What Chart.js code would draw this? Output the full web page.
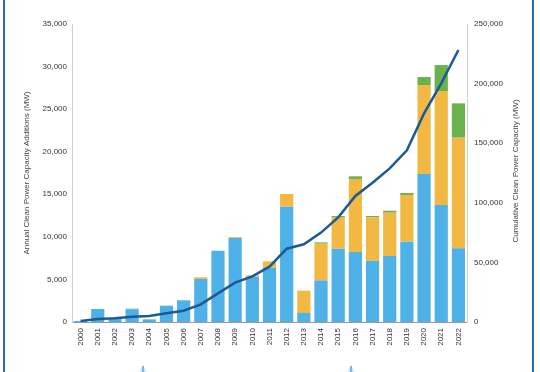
<!DOCTYPE html>
<html>
<head>
<meta charset="utf-8">
<script src="https://cdn.jsdelivr.net/npm/chart.js@4/dist/chart.umd.min.js"></script>
<style>
  body { margin: 0; background: #fff; }
  #wrap { position: relative; width: 540px; height: 372px; }
  .edge { position: absolute; top: 0; width: 2px; height: 372px; background: #2a6db0; }
  .tip { position: absolute; top: 366px; width: 0; height: 0;
         border-left: 4px solid transparent; border-right: 4px solid transparent;
         border-bottom: 6px solid #cfe6f5; }
  .tip::after { content: ''; position: absolute; left: -1px; top: 0; width: 2px; height: 6px; background: #7fb7de; }
</style>
</head>
<body>
<div id="wrap">
  <canvas id="chart" width="540" height="372"></canvas>
  <div class="edge" style="left:3px"></div>
  <div class="edge" style="left:532px"></div>
  <div class="tip" style="left:139px"></div>
  <div class="tip" style="left:347px"></div>
</div>
<script>
// Data
var years = ['2000', '2001', '2002', '2003', '2004', '2005', '2006', '2007', '2008', '2009', '2010', '2011',
             '2012', '2013', '2014', '2015', '2016', '2017', '2018', '2019', '2020', '2021', '2022'];

var blueAdds = [120, 1530, 430, 1500, 310, 1920, 2550, 5050, 8380, 9870, 5290, 6380,
                13550, 1060, 4890, 8610, 8220, 7170, 7750, 9440, 17380, 13740, 8650];
var yellowAdds = [0, 0, 0, 0, 0, 0, 0, 200, 0, 100, 200, 750,
                  1490, 2620, 4310, 3720, 8580, 5130, 5090, 5480, 10450, 13390, 13000];
var greenAdds = [0, 0, 0, 60, 0, 0, 0, 0, 0, 0, 0, 0,
                 0, 0, 150, 120, 310, 150, 230, 230, 940, 3050, 4030];
var cumulative = [900, 2500, 3100, 4500, 5000, 7300, 9500, 14800, 24000, 33000, 38300, 46400,
                  61500, 65200, 75000, 87800, 105700, 116900, 128900, 144000, 175000, 200200, 228200];

var rightTitle = 'Cumulative Clean Power Capacity (MW)';

var tickFont = { family: 'Liberation Sans', size: 8 };
var titleFont = { family: 'Liberation Sans', size: 8 };

function commas(v) {
    return v.toLocaleString('en-US');
}

// Right axis title reads bottom-to-top like the left one
var rightTitlePlugin = {
    id: 'rightTitle',
    afterDraw: function(chart) {
        var c = chart.ctx;
        var area = chart.chartArea;
        c.save();
        c.translate(516, (area.top + area.bottom) / 2 - 2);
        c.rotate(-Math.PI / 2);
        c.font = '8px "Liberation Sans"';
        c.fillStyle = '#444';
        c.textAlign = 'center';
        c.textBaseline = 'middle';
        c.fillText(rightTitle, 0, 0);
        c.restore();
    }
};

var ctx = document.getElementById('chart').getContext('2d');

var chart = new Chart(ctx, {
    type: 'bar',
    data: {
        labels: years,
        datasets: [
            {
                type: 'line',
                data: cumulative,
                yAxisID: 'y1',
                borderColor: '#1d5a95',
                borderWidth: 2.5,
                pointRadius: 0,
                tension: 0,
                order: 0
            },
            { data: blueAdds, backgroundColor: '#4eb1e7', stack: 'a', order: 1 },
            { data: yellowAdds, backgroundColor: '#f1b944', stack: 'a', order: 1 },
            { data: greenAdds, backgroundColor: '#6ab24d', stack: 'a', order: 1 }
        ]
    },
    plugins: [rightTitlePlugin],
    options: {
        responsive: false,
        animation: false,
        barPercentage: 0.77,
        categoryPercentage: 1,
        layout: { padding: { left: 22, right: 23, top: 24, bottom: 0 } },
        plugins: {
            legend: { display: false },
            tooltip: { enabled: false }
        },
        scales: {
            x: {
                stacked: true,
                grid: { display: false, drawTicks: false },
                border: { color: '#9a9a9a', width: 1 },
                ticks: {
                    font: tickFont,
                    color: '#333',
                    minRotation: 90,
                    maxRotation: 90,
                    padding: 6,
                    autoSkip: false
                },
                afterFit: function(scale) { scale.height = 50; }
            },
            y: {
                stacked: true,
                position: 'left',
                min: 0,
                max: 35000,
                grid: { display: false, drawTicks: false },
                border: { color: '#cfcfcf', width: 1 },
                ticks: {
                    stepSize: 5000,
                    font: tickFont,
                    color: '#333',
                    padding: 5,
                    callback: function(v) { return commas(v); }
                },
                title: {
                    display: true,
                    text: 'Annual Clean Power Capacity Additions (MW)',
                    font: titleFont,
                    color: '#444',
                    padding: { top: 0, bottom: 4 }
                },
                afterFit: function(scale) { scale.width = 50; }
            },
            y1: {
                position: 'right',
                min: 0,
                max: 250000,
                grid: { display: false, drawTicks: false },
                border: { color: '#cfcfcf', width: 1 },
                ticks: {
                    stepSize: 50000,
                    font: tickFont,
                    color: '#333',
                    padding: 7,
                    callback: function(v) { return commas(v); }
                },
                afterFit: function(scale) { scale.width = 50; }
            }
        }
    }
});
</script>
</body>
</html>
